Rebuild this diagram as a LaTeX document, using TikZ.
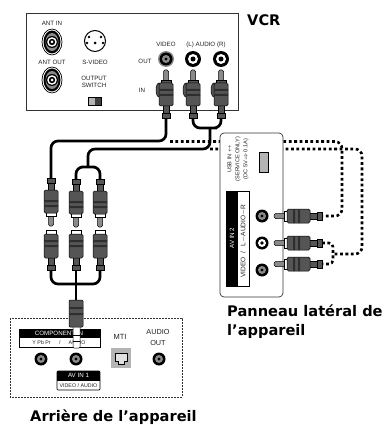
\documentclass[tikz,border=0pt]{standalone}
\usepackage{fontspec}
\setsansfont{Liberation Sans}
\newfontfamily\titlefont{DejaVu Sans}
\usetikzlibrary{arrows.meta,calc,positioning}
\definecolor{PlugGray}{HTML}{555555}
\definecolor{BandGray}{HTML}{2E2E2E}
\definecolor{PinGray}{HTML}{8A8A8A}
\definecolor{PortGray}{HTML}{B4B4B4}
\definecolor{TextInk}{HTML}{222222}
\tikzset{
  label6/.style={font=\sffamily\fontsize{6.2}{7.5}\selectfont,text=TextInk,inner sep=0pt,align=center},
  title/.style={font=\titlefont\bfseries\fontsize{14.6}{18.5}\selectfont,inner sep=0pt,align=left,anchor=west},
  panel/.style={draw=black!80,fill=white,line width=.7pt},
  cable/.style={draw=black,line width=2.7pt,rounded corners=7pt},
  dotcable/.style={draw=black,line width=2.6pt,rounded corners=7pt,dash pattern=on 2.8pt off 2.6pt},
  rcaplug/.pic={
    \coordinate (-tail) at (0,0);
    \draw[fill=PinGray,line width=.5pt,rounded corners=1.5pt] (-2.5,34) rectangle (2.5,48);
    \draw[fill=#1,line width=.5pt] (-5,33) rectangle (5,38);
    \draw[fill=PlugGray,line width=.5pt] (-3,5) rectangle (3,13);
    \draw[fill=PlugGray,line width=.5pt,rounded corners=1.5pt] (-7,12) rectangle (7,35);
    \fill[BandGray] (-7,22) rectangle (7,24) (-7,27) rectangle (7,29);
    \draw[fill=PlugGray,line width=.5pt] (-4,0) rectangle (4,5);
  },
  rcasocket/.pic={
    \coordinate (-tail) at (0,0);
    \draw[fill=white,line width=.5pt] (-5,34) rectangle (5,40);
    \draw[fill=PlugGray,line width=.5pt] (-3,5) rectangle (3,13);
    \draw[fill=PlugGray,line width=.5pt,rounded corners=1.5pt] (-7,12) rectangle (7,36);
    \fill[BandGray] (-7,23) rectangle (7,25) (-7,28) rectangle (7,30);
    \draw[fill=PlugGray,line width=.5pt] (-4,0) rectangle (4,5);
  },
  rcajack/.pic={
    \fill[black] (0,0) circle (6.5);
    \fill[#1] (0,0) circle (4);
    \fill[black] (0,0) circle (1.6);
  },
  antjack/.pic={
    \draw[line width=.7pt,fill=white] (0,0) ellipse (10 and 13);
    \fill[black] (0,0) ellipse (8.5 and 11.5);
    \fill[PinGray] (0,0) ellipse (6.5 and 9);
    \fill[black] (0,0) circle (6);
    \fill[white] (0,0) circle (4.8);
    \fill[black] (0,0) circle (3.2);
    \fill[white] (0,0) circle (1.5);
  }
}
\begin{document}
\begin{tikzpicture}[x=1pt,y=-1pt]
\useasboundingbox (0,0) rectangle (385,425);

% VCR
\draw[panel] (26,13) rectangle (238,110);
\node[label6] (antin) at (52,23.5) {ANT IN};
\node[label6] (antout) at (52,62.5) {ANT OUT};
\node[label6] (svideo) at (95,62.5) {S-VIDEO};
\node[label6] (outswitch) at (94,82) {OUTPUT\\SWITCH};
\node[label6] (vcrvideo) at (166,44.5) {VIDEO};
\node[label6] (vcraudio) at (206,44.5) {(L) AUDIO (R)};
\node[label6] (vcrout) at (145,61) {OUT};
\node[label6] (vcrin) at (142,90) {IN};
\node[title] (vcrtitle) at (247,20) {VCR};
\pic at (52,42) {antjack};
\pic at (52,80) {antjack};
\draw[line width=1pt,fill=white] (95,41) circle (10.5);
\fill (89,37) circle (1.3) (101,37) circle (1.3) (87,43) circle (1.3) (103,43) circle (1.3) (95,43) circle (1.5);
\fill[PortGray] (88,97) rectangle (95,105);
\fill[black!75] (95,97) rectangle (101,105);
\draw[line width=.5pt] (88,97) rectangle (101,105);
\fill[PinGray] (166,59) circle (8);
\pic at (166,59) {rcajack=PinGray};
\foreach \x in {193,221} {
  \fill (\x,59) circle (8);
  \fill[white] (\x,59) circle (5);
  \fill (\x,59) circle (2.5);
}
\foreach \x in {159,186,214} \draw[fill=PlugGray,line width=.5pt] (\x,90) ellipse (3 and 7);

% dotted cables
\coordinate (auxjoin) at (210,128);
\coordinate (upperdot) at (342,141.5);
\coordinate (lowerdot) at (362,149);
\coordinate (dotfork) at (333,254);
\coordinate (sidea) at (322,216);
\coordinate (sideb) at (322,243);
\coordinate (sidec) at (322,264);
\draw[dotcable] (170,141.5) -- (upperdot) -- (342,216) -- (sidea);
\draw[dotcable] (auxjoin |- 0,149) -- (lowerdot) -- (362,254) -- (dotfork);
\draw[dotcable,rounded corners=4pt] (sideb) -- (dotfork |- sideb) -- (dotfork |- sidec) -- (sidec);

% cables
\pic[rotate=180] (vcrv) at (166,118) {rcaplug=PlugGray};
\pic[rotate=180] (vcrl) at (193,118) {rcaplug=PlugGray};
\pic[rotate=180] (vcrr) at (221,118) {rcaplug=PlugGray};
\pic (topa) at (51,178) {rcaplug=white};
\pic (topb) at (76,179) {rcaplug=white};
\pic (topc) at (100,179) {rcaplug=white};
\pic[rotate=180] (lowa) at (51,270) {rcasocket};
\pic[rotate=180] (lowb) at (76,270) {rcasocket};
\pic[rotate=180] (lowc) at (100,270) {rcasocket};
\coordinate (topfork) at (88,167);
\coordinate (lowfork) at (76,284);
\coordinate (compin) at (76,302);
\draw[cable] (vcrv-tail) |- (100,141) -| (topa-tail);
\draw[cable] (vcrl-tail) |- (auxjoin) -| (vcrr-tail);
\draw[cable] (auxjoin) |- (150,149) -| (topfork);
\draw[cable] (topb-tail) |- (topfork) -| (topc-tail);
\draw[cable] (lowa-tail) |- (lowfork) -| (lowc-tail);
\draw[cable] (lowb-tail) -- (compin);

% side panel
\draw[panel,rounded corners=4pt] (220,133) rectangle (283,297);
\node[label6,rotate=90,font=\sffamily\fontsize{5.6}{8}\selectfont] (usbtext) at (238,159) {USB IN $\leftrightarrow$\\(SERVICE ONLY)\\(DC 5V$\Rightarrow$ 0.1A)};
\draw[fill=PortGray,line width=.4pt] (259,152) rectangle (268,172);
\draw[line width=.7pt] (226,191) rectangle (249,286);
\fill (226,191) rectangle (238,286);
\node[label6,rotate=90,text=white] (avin2) at (232,238) {AV IN 2};
\node[label6,rotate=90,font=\sffamily\fontsize{6.6}{8}\selectfont] (avin2sub) at (243.5,241) {VIDEO \ / \ \ L$-$AUDIO$-$R};
\pic at (262,216) {rcajack=PinGray};
\fill (262,243) circle (6.5);
\fill[white] (262,243) circle (4);
\fill (262,243) circle (1.8);
\pic at (262,270) {rcajack=PinGray};
\pic[rotate=-90] (sideplugc) at (sidec) {rcaplug=white};
\pic[rotate=-90] (sideplugb) at (sideb) {rcaplug=white};
\pic[rotate=-90] (sideauga) at (sidea) {rcaplug=white};

% rear panel
\draw[panel,dash pattern=on 2pt off 1pt] (10,318) rectangle (182,397);
\draw[line width=.7pt] (19,329) rectangle (100,347);
\fill (19,329) rectangle (100,338);
\node[label6,text=white] (compon) at (59,333.5) {COMPONENT IN};
\node[label6,font=\sffamily\fontsize{5.3}{6}\selectfont] (compsub) at (59,342.5) {Y Pb Pr \quad\ / \quad\ AUDIO};
\node[label6,font=\sffamily\fontsize{7.5}{9}\selectfont] (mti) at (120,337) {MTI};
\node[label6,font=\sffamily\fontsize{7.3}{10.5}\selectfont] (audioout) at (158,337.5) {AUDIO\\OUT};
\pic at (41,359) {rcajack=PinGray};
\pic at (76,359) {rcajack=PinGray};
\pic at (159,359) {rcajack=PinGray};
\fill[PortGray] (111,348) rectangle (131,368);
\draw[line width=.5pt,fill=black!12] (115,353) -- (127,353) -- (127,361) -- (124,361) -- (124,364) -- (118,364) -- (118,361) -- (115,361) -- cycle;
\draw[line width=.7pt,rounded corners=1pt] (57,371) rectangle (100,390);
\fill (57,371) rectangle (100,380.5);
\node[label6,text=white] (avin1) at (78.5,375.5) {AV IN 1};
\node[label6,font=\sffamily\fontsize{5.3}{6}\selectfont] (avin1sub) at (78.5,385.5) {VIDEO / AUDIO};
\draw[fill=white,line width=.5pt,rounded corners=1pt] (73,325) rectangle (80,348);
\draw (73,335) -- (80,335) (73,341) -- (80,341);
\draw[fill=PlugGray,line width=.5pt,rounded corners=1pt] (compin) ++(-7,-2) rectangle (83,327);
\fill[BandGray] (69,307) rectangle (83,309) (69,313) rectangle (83,315);

\node[title] (sidetitle) at (227,321.5) {Panneau latéral de\\l’appareil};
\node[title] (reartitle) at (30,417) {Arrière de l’appareil};
\end{tikzpicture}
\end{document}
